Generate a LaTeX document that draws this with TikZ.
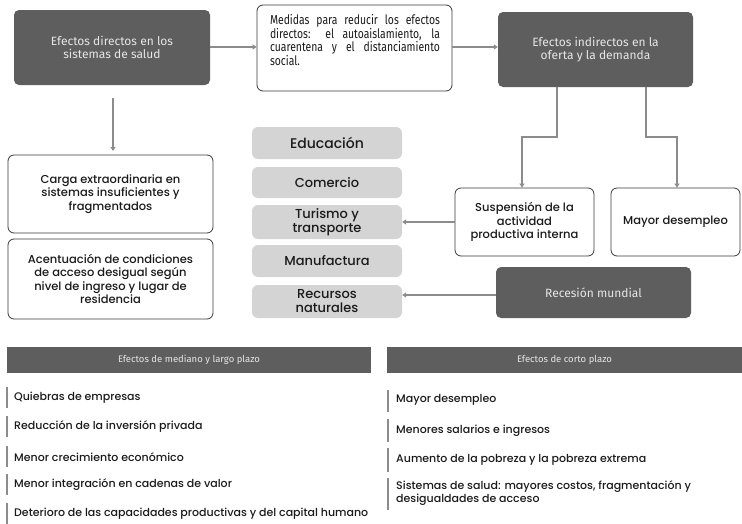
\documentclass[tikz,border=0pt]{standalone}
\usepackage{fontspec}
\setmainfont{Poppins}[UprightFont=* Medium]
\newfontfamily\dinfont{Fira Sans}
\newfontfamily\condfont[FakeStretch=0.8]{Fira Sans}
\usetikzlibrary{arrows.meta}
\definecolor{darkbox}{HTML}{5E5E5E}
\definecolor{lightbox}{HTML}{D4D4D4}
\definecolor{arrowgray}{HTML}{8C8C8C}
\definecolor{bordergray}{HTML}{3A3A3A}
\definecolor{headtext}{HTML}{E6E6E6}
\definecolor{bodytext}{HTML}{1A1A1A}
\tikzset{
  darknode/.style={fill=darkbox, rounded corners=5pt, text=headtext, align=center, font=\dinfont\fontsize{12}{13.5}\selectfont, inner sep=0pt},
  whitenode/.style={draw=bordergray, line width=0.8pt, fill=white, rounded corners=6pt, align=center, text=bodytext, font=\fontsize{11.5}{13.5}\selectfont, inner sep=0pt},
  sectornode/.style={fill=lightbox, rounded corners=6pt, align=center, text=bodytext, font=\fontsize{13}{14}\selectfont, inner sep=0pt},
  headnode/.style={fill=darkbox, text=headtext, font=\dinfont\fontsize{9.5}{11}\selectfont, inner sep=0pt},
  conn/.style={draw=arrowgray, line width=1.3pt, -{Triangle[length=4pt,width=5pt]}},
  bar/.style={draw=arrowgray, line width=1.6pt},
  itemtext/.style={anchor=west, text=bodytext, font=\fontsize{11}{12.5}\selectfont, align=left, inner sep=0pt}
}
\begin{document}
\begin{tikzpicture}[x=1pt,y=-1pt]
\useasboundingbox (0,0) rectangle (742,523);
% top row
\node[darknode, minimum width=196pt, minimum height=75pt] (A) at (112,47.5) {Efectos directos en los\\sistemas de salud};
\node[whitenode, minimum width=195pt, minimum height=86pt] (B) at (354.5,48) {};
\node[font=\condfont\fontsize{13}{10.2}\selectfont, text=bodytext, text width=170pt, align=justify, inner sep=0pt] (Bt) at (355,40) {Medidas para reducir los efectos\linebreak directos: el autoaislamiento, la\linebreak cuarentena y el distanciamiento\linebreak social.};
\node[darknode, minimum width=195pt, minimum height=75pt] (C) at (595.5,49.5) {Efectos indirectos en la\\oferta y la demanda};
\draw[conn] (A.east |- 0,47) -- (B.west |- 0,47);
\draw[conn] (B.east |- 0,47) -- (C.west |- 0,47);
% left column
\node[whitenode, minimum width=205pt, minimum height=78pt] (D) at (110.5,194) {Carga extraordinaria en\\sistemas insuficientes y\\fragmentados};
\node[whitenode, minimum width=205pt, minimum height=80pt] (E) at (110.5,279) {Acentuación de condiciones\\de acceso desigual según\\nivel de ingreso y lugar de\\residencia};
\coordinate (Astart) at (113,98);
\draw[conn] (Astart) -- (113,151);
% sectors
\node[sectornode, minimum width=150pt, minimum height=32pt, font=\fontsize{14}{15}\selectfont] (S1) at (327,143) {Educación};
\node[sectornode, minimum width=150pt, minimum height=31pt] (S2) at (327,182.5) {Comercio};
\node[sectornode, minimum width=150pt, minimum height=34pt] (S3) at (327,222) {Turismo y\\transporte};
\node[sectornode, minimum width=150pt, minimum height=32pt] (S4) at (327,261) {Manufactura};
\node[sectornode, minimum width=150pt, minimum height=33pt] (S5) at (327,301.5) {Recursos\\naturales};
% right column
\node[whitenode, minimum width=139pt, minimum height=68pt] (F) at (524.5,222) {Suspensión de la\\actividad\\productiva interna};
\node[whitenode, minimum width=129pt, minimum height=68pt] (G) at (675.5,222) {Mayor desempleo};
\node[darknode, minimum width=195pt, minimum height=51pt] (H) at (593.5,292.5) {Recesión mundial};
\draw[conn] (C.south -| 557,0) -- (557,137) -- (522,137) -- (F.north -| 522,0);
\draw[conn] (C.south -| 646,0) -- (646,137) -- (677,137) -- (G.north -| 677,0);
\draw[conn] (F.west |- 0,222) -- (S3.east |- 0,222);
\draw[conn] (H.west |- 0,295) -- (S5.east |- 0,295);
% bottom headers
\node[headnode, minimum width=364pt, minimum height=26pt] (L) at (189,360) {Efectos de mediano y largo plazo};
\node[headnode, minimum width=355pt, minimum height=26pt] (R) at (564.5,360) {Efectos de corto plazo};
% left items
\foreach \y/\t [count=\i] in {398/Quiebras de empresas, 427/Reducción de la inversión privada, 457/Menor crecimiento económico, 485/Menor integración en cadenas de valor, 514/Deterioro de las capacidades productivas y del capital humano}{
  \coordinate (lbt\i) at (7,\y-11);
  \coordinate (lbb\i) at (7,\y+10);
  \draw[bar] (lbt\i) -- (lbb\i);
  \node[itemtext] (li\i) at (14,\y) {\t};
}
% right items
\coordinate (rbt1) at (388,390); \coordinate (rbb1) at (388,412);
\coordinate (rbt2) at (388,419); \coordinate (rbb2) at (388,442);
\coordinate (rbt3) at (388,448); \coordinate (rbb3) at (388,472);
\coordinate (rbt4) at (388,478); \coordinate (rbb4) at (388,510);
\foreach \i in {1,...,4}{\draw[bar] (rbt\i) -- (rbb\i);}
\node[itemtext] (ri1) at (396,400) {Mayor desempleo};
\node[itemtext] (ri2) at (396,431) {Menores salarios e ingresos};
\node[itemtext] (ri3) at (396,460) {Aumento de la pobreza y la pobreza extrema};
\node[itemtext] (ri4) at (396,493) {Sistemas de salud: mayores costos, fragmentación y\\desigualdades de acceso};
\end{tikzpicture}
\end{document}
